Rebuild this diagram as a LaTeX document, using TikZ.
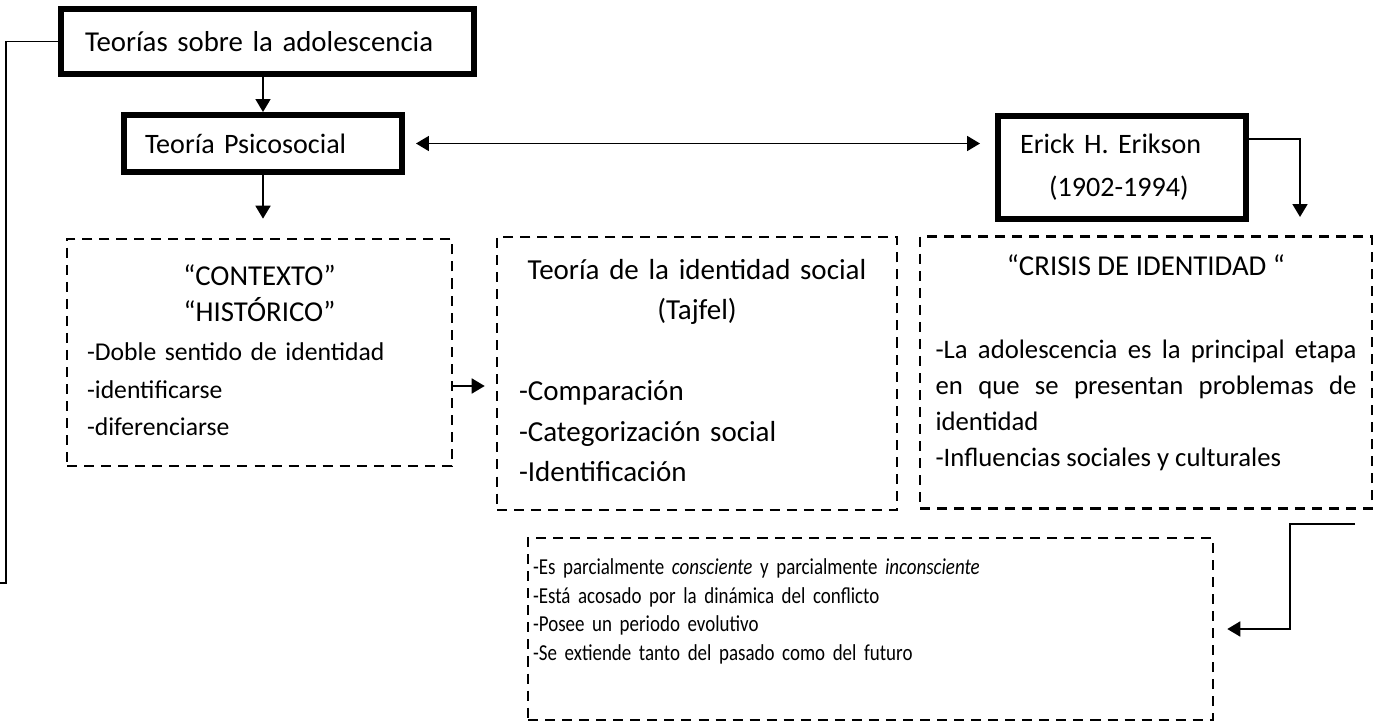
\documentclass[tikz,border=0pt]{standalone}
\usepackage{fontspec}
\setmainfont{Carlito}
\newfontfamily\narrowfont{Carlito}[FakeStretch=0.83]
\usetikzlibrary{arrows.meta,positioning,calc}
\tikzstyle{thickbox}=[draw, rectangle, line width=3.4pt, inner ysep=0pt]
\tikzstyle{dashbox}=[draw, rectangle, line width=1.5pt, dash pattern=on 5.7pt off 4pt, inner ysep=0pt]
\tikzstyle{arr}=[line width=1.1pt, -{Triangle[length=7.4pt,width=8.5pt]}]
\tikzstyle{conn}=[line width=1.1pt]
\newcommand{\headfont}{\fontsize{16.4}{20.5}\selectfont}
\newcommand{\bottomgap}[1]{\par\vspace{#1}\hrule height 0pt}

\begin{document}
\begin{tikzpicture}[x=0.02cm, y=-0.02cm]
	\useasboundingbox (0,0) rectangle (1378,727);
	% boxes with thick border
	\node[thickbox, text width=7.3cm, inner xsep=0.48cm, minimum height=1.3cm, align=left, font=\fontsize{16.4}{19}\selectfont] (teorias) at (267.5,41.5) {Teorías sobre la adolescencia};
	\node[thickbox, text width=4.72cm, inner xsep=0.42cm, minimum height=1.14cm, align=left, font=\fontsize{16}{19}\selectfont] (psico) at (263,143.5) {Teoría Psicosocial};
	\node[thickbox, text width=4.08cm, inner xsep=0.44cm, minimum height=2.06cm, align=left, font=\fontsize{16}{24.4}\selectfont] (erikson) at (1122,167.5) {Erick H. Erikson\\\hspace*{0.58cm}(1902-1994)};
	% dashed boxes
	\node[dashbox, text width=6.9cm, inner xsep=0.4cm, minimum height=4.54cm, align=left, font=\fontsize{14.6}{21.3}\selectfont] (ctx) at (259.5,352.5) {{\headfont\centering “CONTEXTO”\par “HISTÓRICO”\par}\vspace{1pt}-Doble sentido de identidad\\-identificarse\\-diferenciarse\bottomgap{0.08cm}};
	\node[dashbox, text width=7.12cm, inner xsep=0.44cm, minimum height=5.46cm, align=left, font=\fontsize{16.5}{23}\selectfont] (tajfel) at (697,373.5) {{\centering Teoría de la identidad social\par (Tajfel)\par}\vspace{23pt}-Comparación\\-Categorización social\\-Identificación\bottomgap{0.12cm}};
	\node[dashbox, text width=8.42cm, inner xsep=0.31cm, minimum height=5.44cm, align=justify, font=\fontsize{15.2}{20.4}\selectfont] (crisis) at (1146,372.5) {{\headfont\centering “CRISIS DE IDENTIDAD “\par}\vspace{27pt}-La adolescencia es la principal etapa\linebreak en que se presentan problemas de\linebreak identidad\\-Influencias sociales y culturales\bottomgap{0.4cm}};
	\node[dashbox, text width=13.5cm, inner xsep=0.1cm, minimum height=3.64cm, align=left, font=\narrowfont\fontsize{13}{16.2}\selectfont] (ext) at (870.5,629) {-Es parcialmente \textit{consciente} y parcialmente \textit{inconsciente}\\-Está acosado por la dinámica del conflicto\\-Posee un periodo evolutivo\\-Se extiende tanto del pasado como del futuro\bottomgap{0.7cm}};
	% free ends
	\coordinate (lbend) at (6,583);
	\coordinate (lend) at (0,583);
	\coordinate (crisistip) at (1300,217);
	\coordinate (extfrom) at (1355,524);
	% connectors
	\draw[arr] (psico.north |- teorias.south) -- (psico.north);
	\draw[arr, shorten >=0.38cm] (psico.south) -- (psico.south |- ctx.north);
	\draw[arr, {Triangle[length=7.4pt,width=8.5pt]}-{Triangle[length=7.4pt,width=8.5pt]}, shorten <=0.22cm, shorten >=0.3cm] (psico.east) -- (psico.east -| erikson.west);
	\draw[arr] ([yshift=0.57cm]erikson.east) -| (crisistip);
	\draw[arr, shorten >=0.22cm] ([yshift=-0.67cm]ctx.east) -- ([yshift=-0.67cm]ctx.east -| tajfel.west);
	\draw[arr, shorten >=0.26cm] (extfrom) -- ++(-65,0) |- (ext.east);
	\draw[conn] (teorias.west) -| (lbend) -- (lend);
\end{tikzpicture}
\end{document}
